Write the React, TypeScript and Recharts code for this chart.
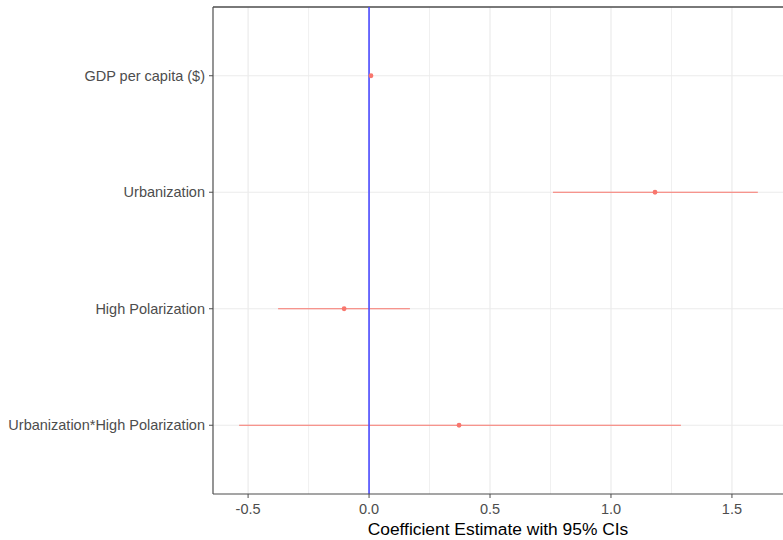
import { ScatterChart, Scatter, XAxis, YAxis, ErrorBar, ReferenceLine, Label } from 'recharts';

const terms = ['GDP per capita ($)', 'Urbanization', 'High Polarization', 'Urbanization*High Polarization'];
const estimates = [0.008, 1.182, -0.103, 0.372];
const lowerCI = [0.005, 0.76, -0.376, -0.537];
const upperCI = [0.011, 1.607, 0.169, 1.289];

const xTicks = [-0.5, 0, 0.5, 1, 1.5];
const xMinor = [-0.25, 0.25, 0.75, 1.25];
const yTicks = [1, 2, 3, 4];

const X_DOMAIN: [number, number] = [-0.645, 1.711];
const Y_DOMAIN: [number, number] = [0.41, 4.59];

const FONT = '"Liberation Sans", Arial, sans-serif';
const POINT = '#F8766D';

const rows = terms.map((term, i) => ({
  term,
  pos: i + 1,
  est: estimates[i],
  err: [estimates[i] - lowerCI[i], upperCI[i] - estimates[i]],
}));

const Dot = (props: any) => <circle cx={props.cx} cy={props.cy} r={2.4} fill={POINT} />;

export default function App() {
  return (
    <div style={{ position: 'absolute', left: 0, top: 0, width: 783, height: 540, overflow: 'hidden', background: '#fff', fontFamily: FONT }}>
      <ScatterChart width={783} height={540} margin={{ top: 7, right: 0, bottom: 0, left: 0 }}>
        {xMinor.map((v) => (
          <ReferenceLine key={`mn${v}`} x={v} stroke="#F0F0F0" strokeWidth={1} />
        ))}
        {xTicks.map((v) => (
          <ReferenceLine key={`mj${v}`} x={v} stroke="#EBEBEB" strokeWidth={1.2} />
        ))}
        {yTicks.map((v) => (
          <ReferenceLine key={`hy${v}`} y={v} stroke="#EBEBEB" strokeWidth={1.2} />
        ))}
        <XAxis
          type="number"
          dataKey="est"
          domain={X_DOMAIN}
          allowDataOverflow
          ticks={xTicks}
          tickFormatter={(v: number) => v.toFixed(1)}
          height={46}
          tickSize={4}
          tickMargin={6}
          stroke="#4d4d4d"
          tick={{ fill: '#4D4D4D', fontSize: 14.5, fontFamily: FONT }}
          axisLine={{ stroke: '#4d4d4d', strokeWidth: 1.2 }}
        >
          <Label value="Coefficient Estimate with 95% CIs" position="insideBottom" offset={5} fill="#000" fontSize={17.4} fontFamily={FONT} />
        </XAxis>
        <YAxis
          type="number"
          dataKey="pos"
          domain={Y_DOMAIN}
          allowDataOverflow
          reversed
          ticks={yTicks}
          interval={0}
          tickFormatter={(v: number) => terms[v - 1] ?? ''}
          width={213}
          tickSize={4}
          tickMargin={4}
          stroke="#4d4d4d"
          tick={{ fill: '#4D4D4D', fontSize: 14.5, fontFamily: FONT }}
          axisLine={{ stroke: '#4d4d4d', strokeWidth: 1.2 }}
        />
        <ReferenceLine y={Y_DOMAIN[0]} stroke="#4d4d4d" strokeWidth={1.4} />
        <Scatter data={rows} shape={Dot} isAnimationActive={false}>
          <ErrorBar dataKey="err" direction="x" width={0} stroke={POINT} strokeWidth={1.2} isAnimationActive={false} />
        </Scatter>
        <ReferenceLine x={0} stroke="#4B4BFF" strokeWidth={1.6} />
      </ScatterChart>
    </div>
  );
}
